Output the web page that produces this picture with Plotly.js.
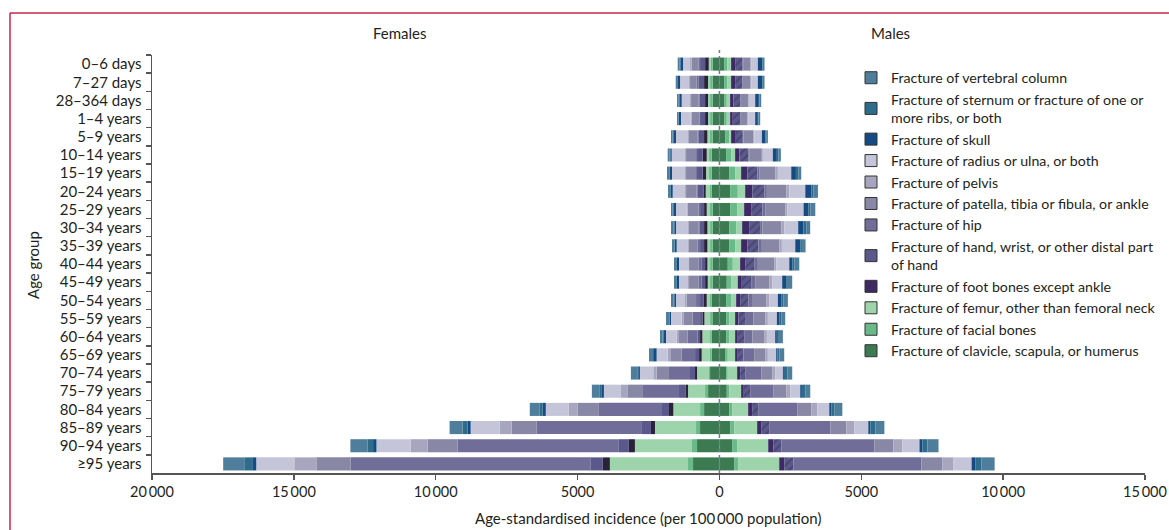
<!DOCTYPE html>
<html>
<head>
<meta charset="utf-8">
<script src="https://cdn.plot.ly/plotly-3.0.1.min.js"></script>
<style>html,body{margin:0;padding:0;background:#fff;}#chart{width:1169px;height:530px;}</style>
</head>
<body>
<div id="chart"></div>
<script>
// Age groups (top to bottom)
const ageGroups = ["0–6 days","7–27 days","28–364 days","1–4 years","5–9 years","10–14 years","15–19 years","20–24 years","25–29 years","30–34 years","35–39 years","40–44 years","45–49 years","50–54 years","55–59 years","60–64 years","65–69 years","70–74 years","75–79 years","80–84 years","85–89 years","90–94 years","≥95 years"];

// Category names (legend order, top to bottom)
const categories = [
  "Fracture of vertebral column",
  "Fracture of sternum or fracture of one or<br>more ribs, or both",
  "Fracture of skull",
  "Fracture of radius or ulna, or both",
  "Fracture of pelvis",
  "Fracture of patella, tibia or fibula, or ankle",
  "Fracture of hip",
  "Fracture of hand, wrist, or other distal part<br>of hand",
  "Fracture of foot bones except ankle",
  "Fracture of femur, other than femoral neck",
  "Fracture of facial bones",
  "Fracture of clavicle, scapula, or humerus"
];

// Females: age-standardised incidence per 100 000
const femVertebral = [71,47,59,59,59,71,82,71,59,94,82,71,71,94,118,94,141,224,282,353,459,600,742];
const femSternum   = [24,12,24,12,24,24,24,24,24,24,24,24,24,24,24,24,35,35,71,94,177,200,282];
const femSkull     = [94,94,82,71,94,47,71,71,94,59,59,82,82,59,35,94,94,59,71,118,106,118,141];
const femRadius    = [247,318,294,341,400,471,459,435,377,400,377,330,294,318,377,377,388,471,600,812,1024,1201,1342];
const femPelvis    = [59,35,35,35,35,35,35,35,35,35,35,24,59,59,59,82,118,118,247,306,424,600,777];
const femPatella   = [235,235,259,271,330,353,353,377,377,353,318,330,330,330,330,306,377,435,530,753,883,1059,1201];
const femHip       = [59,59,35,24,24,35,35,35,59,35,94,118,118,141,259,353,471,742,1271,2225,3707,5685,8474];
const femHand      = [177,200,200,177,200,200,200,200,141,165,141,118,118,118,82,82,141,177,224,247,318,353,424];
const femFoot      = [129,141,106,106,118,141,118,82,94,118,118,82,94,118,71,82,94,71,94,153,141,212,247];
const femFemur     = [59,71,71,71,71,82,106,129,94,94,94,94,82,94,200,271,271,400,600,942,1448,2013,2754];
const femFacial    = [82,94,94,94,118,94,94,82,118,94,94,94,94,82,82,59,82,59,106,141,141,177,177];
const femClavicle  = [235,235,235,235,235,271,271,271,235,235,235,235,235,271,247,271,271,330,400,541,683,789,930];

// Males
const malVertebral = [59,59,59,59,59,82,106,153,177,141,129,165,153,153,141,141,165,165,177,271,318,388,459];
const malSternum   = [24,24,24,24,24,59,82,82,71,94,59,71,59,82,71,71,71,129,118,118,177,177,212];
const malSkull     = [153,153,129,94,129,141,165,212,165,188,177,118,141,118,82,59,47,35,59,71,71,106,141];
const malRadius    = [235,235,224,247,271,353,471,565,577,494,471,459,353,306,318,294,294,271,353,424,494,600,636];
const malPelvis    = [35,35,12,24,24,35,94,106,71,106,94,71,106,106,94,94,94,94,141,212,282,318,388];
const malPatella   = [247,259,271,235,353,447,565,683,706,659,612,577,494,471,412,412,388,400,459,494,565,671,742];
const malHip       = [24,12,24,24,24,24,59,82,94,82,118,129,141,153,271,294,377,565,812,1377,2154,3284,4520];
const malHand      = [259,259,235,259,247,318,353,424,400,388,388,318,330,294,259,224,200,177,224,212,282,282,318];
const malFoot      = [141,141,118,94,165,153,224,259,247,247,224,177,141,141,118,94,94,106,94,141,141,177,177];
const malFemur     = [129,129,118,118,59,141,212,259,247,212,212,259,235,177,212,212,259,330,424,565,812,1095,1448];
const malFacial    = [118,118,94,94,153,177,212,271,247,247,212,177,153,177,106,106,94,59,82,106,141,177,141];
const malClavicle  = [165,165,165,165,200,235,341,377,377,341,341,294,259,235,235,235,200,235,259,341,377,447,518];

const tickVals = [-20000,-15000,-10000,-5000,0,5000,10000,15000];
const tickText = ["20\u2009000","15\u2009000","10\u2009000","5000","0","5000","10\u2009000","15\u2009000"];

const colors = ["#4e7e9c","#2f6b8a","#154a82","#c5c5da","#a8a6bf","#8887a5","#706e98","#5b588b","#3d2a64","#9dd4ac","#6aba89","#3c7b52"];
const femData = [femVertebral,femSternum,femSkull,femRadius,femPelvis,femPatella,femHip,femHand,femFoot,femFemur,femFacial,femClavicle];
const malData = [malVertebral,malSternum,malSkull,malRadius,malPelvis,malPatella,malHip,malHand,malFoot,malFemur,malFacial,malClavicle];

const traces = [];
// stack from centre outward: clavicle first ... vertebral last
for (let i = categories.length - 1; i >= 0; i--) {
  const fColor = (i === 8) ? "#2a2338" : colors[i];
  traces.push({
    type: "bar", orientation: "h", y: ageGroups, x: femData[i].map(v => -v),
    marker: {color: fColor, line: {width: 0}},
    showlegend: false, hoverinfo: "skip"
  });
  const mMarker = {color: colors[i], line: {width: 0}};
  if (i === 7) mMarker.pattern = {shape: "/", fillmode: "replace", bgcolor: "#5b588b", fgcolor: "#47446f", size: 6, solidity: 0.3};
  traces.push({
    type: "bar", orientation: "h", y: ageGroups, x: malData[i],
    marker: mMarker, showlegend: false, hoverinfo: "skip"
  });
}
// legend entries
for (let i = 0; i < categories.length; i++) {
  traces.push({
    type: "bar", orientation: "h", y: [null], x: [null], name: categories[i],
    marker: {color: colors[i], line: {color: "#333333", width: 1}},
    showlegend: true, hoverinfo: "skip"
  });
}

const fontFam = "Lato, 'Open Sans', sans-serif";
const txtColor = "#231f20";
const L = 152, T = 55, PW = 993, PH = 418;
function px(xp){ return (xp - L) / PW; }
function py(yp){ return 1 - (yp - T) / PH; }

const layout = {
  width: 1169, height: 530,
  margin: {l: L, r: 1169 - L - PW, t: T, b: 530 - T - PH, pad: 0, autoexpand: false},
  paper_bgcolor: "#ffffff", plot_bgcolor: "#ffffff",
  font: {family: fontFam, size: 15, color: txtColor},
  barmode: "relative", bargap: 0.28,
  showlegend: true,
  legend: {x: px(851), y: py(62), xanchor: "left", yanchor: "top",
           font: {family: fontFam, size: 14.2, color: txtColor},
           bgcolor: "rgba(0,0,0,0)", tracegroupgap: 0, itemwidth: 30},
  xaxis: {range: [-20000, 15000], tickvals: tickVals, ticktext: tickText,
          showgrid: false, zeroline: false, showline: true, linecolor: "#555555", linewidth: 1.5,
          ticks: "outside", ticklen: 5, tickcolor: "#555555", tickwidth: 1.5,
          tickfont: {family: fontFam, size: 14.5, color: txtColor}, fixedrange: true},
  yaxis: {autorange: "reversed", type: "category", showgrid: false, zeroline: false,
          showline: true, linecolor: "#555555", linewidth: 1.5,
          ticks: "outside", ticklen: 5, tickcolor: "#555555", tickwidth: 1.5, tickson: "boundaries",
          ticklabelstandoff: 6,
          tickfont: {family: fontFam, size: 15, color: txtColor}, fixedrange: true},
  annotations: [
    {text: "Females", xref: "paper", yref: "paper", x: px(400), y: py(33), showarrow: false, xanchor: "center", yanchor: "middle", font: {size: 15}},
    {text: "Males", xref: "paper", yref: "paper", x: px(890), y: py(33), showarrow: false, xanchor: "center", yanchor: "middle", font: {size: 15}},
    {text: "Age group", xref: "paper", yref: "paper", x: px(33), y: py(265), showarrow: false, textangle: -90, xanchor: "center", yanchor: "middle", font: {size: 15}},
    {text: "Age-standardised incidence (per 100\u2009000 population)", xref: "paper", yref: "paper", x: px(648), y: py(518), showarrow: false, xanchor: "center", yanchor: "middle", font: {size: 15}}
  ],
  shapes: [
    {type: "line", xref: "x", yref: "paper", x0: 0, x1: 0, y0: 0, y1: py(50), layer: "above",
     line: {color: "#6d7d8d", width: 1.5, dash: "4px,3px"}},
    {type: "line", xref: "paper", yref: "paper", x0: px(10), x1: px(1175), y0: py(13), y1: py(13), layer: "above",
     line: {color: "#c4274b", width: 1.5}},
    {type: "line", xref: "paper", yref: "paper", x0: px(10), x1: px(10), y0: py(13), y1: py(535), layer: "above",
     line: {color: "#c4274b", width: 1.5}}
  ]
};

Plotly.newPlot("chart", traces, layout, {displayModeBar: false, staticPlot: true});
</script>
</body>
</html>
